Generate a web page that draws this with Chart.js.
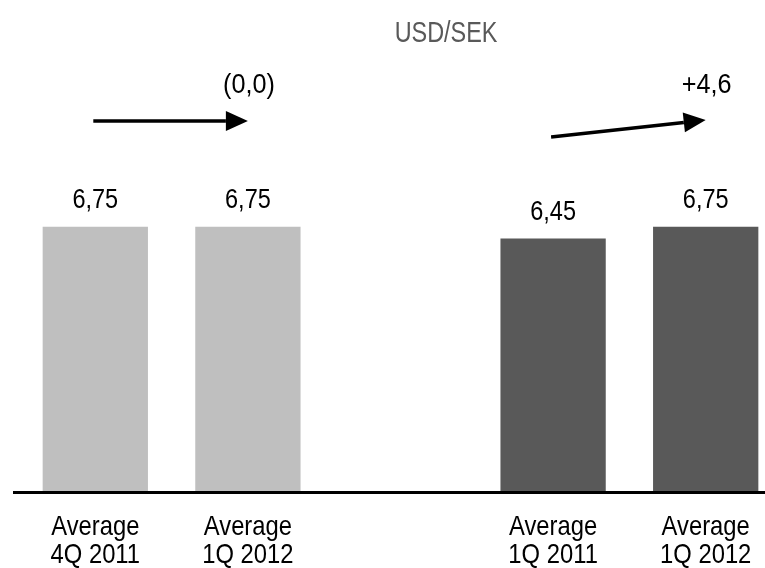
<!DOCTYPE html>
<html>
<head>
<meta charset="utf-8">
<script src="https://cdn.jsdelivr.net/npm/chart.js@4"></script>
<style>
  html, body { margin: 0; padding: 0; background: #fff; overflow: hidden; }
  #wrap { position: relative; width: 782px; height: 568px; }
</style>
</head>
<body>
<div id="wrap"><canvas id="c"></canvas></div>
<script>
// Average USD/SEK rates per period (the empty slot separates the two comparisons)
const categories = [['Average', '4Q 2011'], ['Average', '1Q 2012'], '', ['Average', '1Q 2011'], ['Average', '1Q 2012']];
const rates = [6.75, 6.75, null, 6.45, 6.75];
const barColors = ['#BFBFBF', '#BFBFBF', '#BFBFBF', '#595959', '#595959'];
// Percentage change between the compared periods
const changePairs = [[0, 1], [3, 4]];
const changeLabels = ['(0,0)', '+4,6'];
const chartTitle = 'USD/SEK';

const FONT = "'Liberation Sans', Arial, sans-serif";

const fmt = v => v.toFixed(2).replace('.', ',');

// condensed-looking text: regular face squeezed horizontally
function drawText(ctx, text, cx, baseline, size, sx, color) {
  ctx.save();
  ctx.translate(cx, baseline);
  ctx.scale(sx, 1);
  ctx.font = size + 'px ' + FONT;
  ctx.textAlign = 'center';
  ctx.textBaseline = 'alphabetic';
  ctx.fillStyle = color;
  ctx.fillText(text, 0, 0);
  ctx.restore();
}

const decorations = {
  id: 'decorations',
  afterDatasetsDraw(chart) {
    const { ctx, scales: { x, y }, chartArea } = chart;
    ctx.save();

    // baseline
    ctx.strokeStyle = '#000';
    ctx.lineWidth = 3;
    ctx.beginPath();
    ctx.moveTo(13, chartArea.bottom + 0.5);
    ctx.lineTo(chart.width, chartArea.bottom + 0.5);
    ctx.stroke();

    // category labels under the axis
    categories.forEach((lab, i) => {
      const lines = Array.isArray(lab) ? lab : [lab];
      lines.forEach((line, j) => {
        if (!line) return;
        drawText(ctx, line, x.getPixelForValue(i), chartArea.bottom + 43 + j * 28, 28, 0.85, '#000');
      });
    });

    // value labels above bars
    rates.forEach((v, i) => {
      if (v == null) return;
      drawText(ctx, fmt(v), x.getPixelForValue(i), y.getPixelForValue(v) - 19, 28, 0.84, '#000');
    });

    // title
    drawText(ctx, chartTitle, 446, 42, 30, 0.78, '#595959');

    // change arrows
    const arrowY = [[121, 121], [137, 120]];
    changePairs.forEach(([a, b], k) => {
      const x0 = x.getPixelForValue(a) - 2;
      const x1 = x.getPixelForValue(b);
      const [y0, y1] = arrowY[k];
      const ang = Math.atan2(y1 - y0, x1 - x0);
      const headLen = 22, headHalf = 10;
      const bx = x1 - headLen * Math.cos(ang);
      const by = y1 - headLen * Math.sin(ang);
      ctx.strokeStyle = '#000';
      ctx.lineWidth = 3.5;
      ctx.beginPath();
      ctx.moveTo(x0, y0);
      ctx.lineTo(bx, by);
      ctx.stroke();
      ctx.fillStyle = '#000';
      ctx.beginPath();
      ctx.moveTo(x1, y1);
      ctx.lineTo(bx + headHalf * Math.sin(ang), by - headHalf * Math.cos(ang));
      ctx.lineTo(bx - headHalf * Math.sin(ang), by + headHalf * Math.cos(ang));
      ctx.closePath();
      ctx.fill();

      drawText(ctx, changeLabels[k], x1 + 1, 93, 28, 0.9, '#000');
    });
    ctx.restore();
  }
};

new Chart(document.getElementById('c'), {
  type: 'bar',
  data: {
    labels: categories,
    datasets: [{
      data: rates,
      backgroundColor: barColors,
      borderWidth: 0,
      categoryPercentage: 1,
      barPercentage: 0.69
    }]
  },
  options: {
    responsive: true,
    maintainAspectRatio: false,
    animation: false,
    events: [],
    layout: { padding: { left: 19, right: 0, top: 99, bottom: 0 } },
    plugins: { legend: { display: false }, tooltip: { enabled: false }, title: { display: false } },
    scales: {
      x: {
        grid: { display: false },
        border: { display: false },
        afterFit(scale) { scale.height = 76; },
        ticks: { display: false }
      },
      y: {
        display: false,
        min: 0,
        max: 10
      }
    }
  },
  plugins: [decorations]
});
</script>
</body>
</html>
